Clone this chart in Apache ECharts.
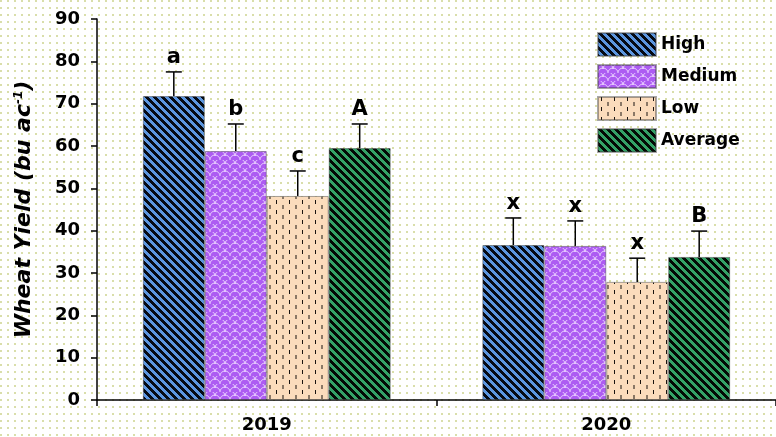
<!DOCTYPE html>
<html><head><meta charset="utf-8">
<script src="https://cdn.jsdelivr.net/npm/echarts@6/dist/echarts.min.js"></script>
<style>
html,body{margin:0;padding:0;width:776px;height:437px;overflow:hidden;
background-color:#ffffff;
background-image:radial-gradient(circle at 1px 1px,#d9deaa 0.9px,transparent 1.2px);
background-size:7px 7px;}
#c{width:776px;height:437px;}
</style></head><body><div id="c"></div>
<script>
const categories = ['2019', '2020'];
const seriesNames = ['High', 'Medium', 'Low', 'Average'];
const highValues = [71.8, 36.6];
const mediumValues = [58.8, 36.4];
const lowValues = [48.2, 27.9];
const averageValues = [59.5, 33.8];
const highErrTop = [77.5, 43.0];
const mediumErrTop = [65.2, 42.3];
const lowErrTop = [54.1, 33.5];
const averageErrTop = [65.2, 39.9];
const highLetters = ['a', 'x'];
const mediumLetters = ['b', 'x'];
const lowLetters = ['c', 'x'];
const averageLetters = ['A', 'B'];
const yTicks = {min: 0, max: 90, interval: 10};

const FONT = 'DejaVu Sans, Verdana, sans-serif';

function mk(w, h, fn) {
  const c = document.createElement('canvas'); c.width = w; c.height = h;
  const ctx = c.getContext('2d'); fn(ctx, w, h); return c;
}
function stripes(bg, fg, p, t) {
  return mk(p, p, (ctx) => {
    const img = ctx.createImageData(p, p);
    const hx = (s) => [parseInt(s.slice(1,3),16), parseInt(s.slice(3,5),16), parseInt(s.slice(5,7),16)];
    const b = hx(bg), f = hx(fg);
    for (let y = 0; y < p; y++) for (let x = 0; x < p; x++) {
      const k = (y * p + x) * 4;
      const on = (((x - y) % p) + p) % p < t;
      const c = on ? f : b;
      img.data[k] = c[0]; img.data[k+1] = c[1]; img.data[k+2] = c[2]; img.data[k+3] = 255;
    }
    ctx.putImageData(img, 0, 0);
  });
}
const bluePat = stripes('#5c96e0', '#050a14', 8, 4);
const greenPat = stripes('#34a267', '#030a05', 8, 4);
const purplePat = mk(10, 8, (ctx, w, h) => {
  ctx.fillStyle = '#ad5cf2'; ctx.fillRect(0, 0, w, h);
  ctx.strokeStyle = 'rgba(236,214,255,0.9)'; ctx.lineWidth = 1;
  ctx.beginPath(); ctx.arc(5, 8, 5, Math.PI, 2 * Math.PI); ctx.stroke();
  ctx.beginPath(); ctx.arc(0, 4, 5, Math.PI * 1.5, 2 * Math.PI); ctx.stroke();
  ctx.beginPath(); ctx.arc(10, 4, 5, Math.PI, Math.PI * 1.5); ctx.stroke();
});
const peachPat = mk(13, 10, (ctx, w, h) => {
  ctx.fillStyle = '#fbdcbc'; ctx.fillRect(0, 0, w, h);
  ctx.fillStyle = '#1a1410'; ctx.fillRect(3, 0, 1, 4);
  ctx.fillStyle = '#8a7866'; ctx.fillRect(9, 5, 2, 4);
});

const valuesList = [highValues, mediumValues, lowValues, averageValues];
const errList = [highErrTop, mediumErrTop, lowErrTop, averageErrTop];
const letterList = [highLetters, mediumLetters, lowLetters, averageLetters];
const pats = [bluePat, purplePat, peachPat, greenPat];
const catGap = 0.27;

const barSeries = seriesNames.map((n, i) => ({
  name: n, type: 'bar', data: valuesList[i], barGap: '0%', barCategoryGap: (catGap * 100) + '%',
  itemStyle: {color: {image: pats[i], repeat: 'repeat'}, borderColor: 'rgba(60,60,60,0.45)', borderWidth: 1},
  z: 2
}));
const errData = [];
for (let s = 0; s < seriesNames.length; s++)
  for (let c = 0; c < categories.length; c++)
    errData.push([c, s, valuesList[s][c], errList[s][c], letterList[s][c]]);

const option = {
  animation: false,
  textStyle: {fontFamily: FONT},
  grid: {left: 97, right: -9, top: 19, bottom: 37, containLabel: false},
  legend: {
    orient: 'vertical', left: 592, top: 27, itemWidth: 58, itemHeight: 23, itemGap: 7,
    icon: 'rect',
    textStyle: {fontSize: 17, fontWeight: 'bold', color: '#000', fontFamily: FONT},
    data: seriesNames
  },
  xAxis: {
    type: 'category', data: categories,
    axisLine: {lineStyle: {color: '#000', width: 1.5}},
    axisTick: {show: true, length: 6, lineStyle: {color: '#000', width: 1.5}},
    axisLabel: {fontSize: 18, fontWeight: 'bold', color: '#000', margin: 16, fontFamily: FONT}
  },
  yAxis: {
    type: 'value', min: yTicks.min, max: yTicks.max, interval: yTicks.interval,
    splitLine: {show: false},
    axisLine: {show: true, lineStyle: {color: '#000', width: 1.5}},
    axisTick: {show: true, length: 6, lineStyle: {color: '#000', width: 1.5}},
    axisLabel: {fontSize: 18, fontWeight: 'bold', color: '#000', margin: 17, fontFamily: FONT},
    name: '{t|Wheat Yield (bu ac}{s|-1}{t|)}', nameLocation: 'middle', nameGap: 62, nameRotate: 90,
    nameTextStyle: {rich: {
      t: {fontSize: 22, fontWeight: 'bold', fontStyle: 'italic', color: '#000', fontFamily: FONT},
      s: {fontSize: 12, fontWeight: 'bold', fontStyle: 'italic', color: '#000', verticalAlign: 'top', padding: [0,0,10,0], fontFamily: FONT}
    }}
  },
  series: barSeries.concat([{
    type: 'custom', z: 5, data: errData,
    renderItem: (params, api) => {
      const cat = api.value(0), s = api.value(1), v = api.value(2), top = api.value(3);
      const letter = errData[params.dataIndex][4];
      const base = api.coord([cat, v]);
      const tp = api.coord([cat, top]);
      const bw = api.size([1, 0])[0] * (1 - catGap) / seriesNames.length;
      const x = base[0] + (s - (seriesNames.length - 1) / 2) * bw;
      const st = {stroke: '#000', lineWidth: 1.5};
      return {type: 'group', children: [
        {type: 'line', shape: {x1: x, y1: base[1], x2: x, y2: tp[1]}, style: st},
        {type: 'line', shape: {x1: x - 8, y1: tp[1], x2: x + 8, y2: tp[1]}, style: st},
        {type: 'text', style: {text: letter, x: x, y: tp[1] - 4, align: 'center', verticalAlign: 'bottom',
          fontSize: 21, fontWeight: 'bold', fill: '#000', fontFamily: FONT}}
      ]};
    }
  }])
};
const chart = echarts.init(document.getElementById('c'), null, {renderer: 'canvas'});
chart.setOption(option);
</script></body></html>
